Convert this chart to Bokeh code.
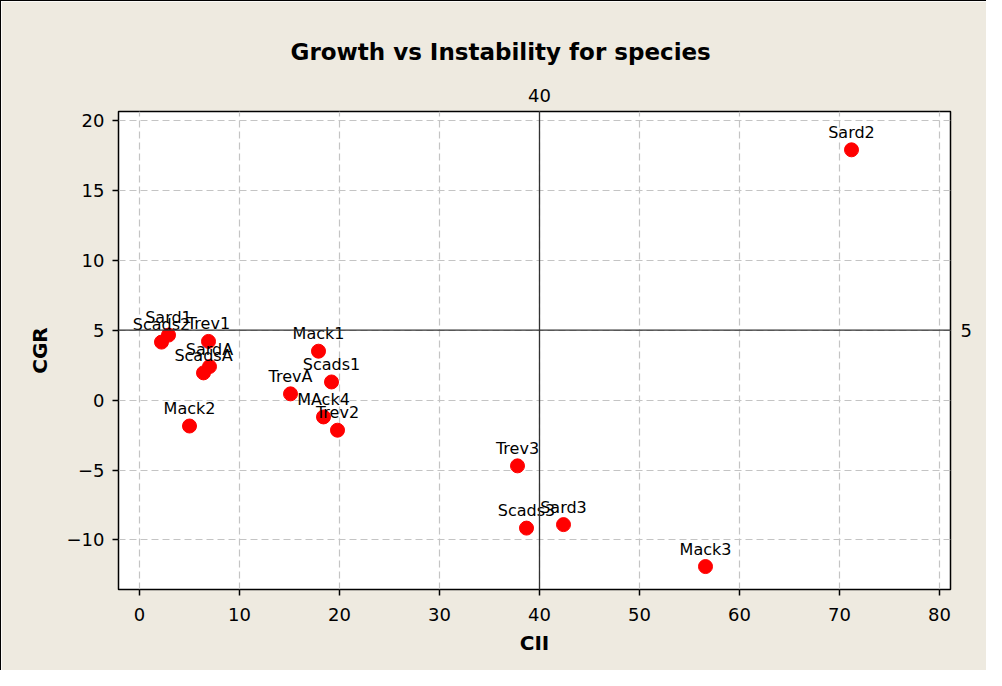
from bokeh.plotting import figure
from bokeh.models import ColumnDataSource, Span, LinearAxis, FixedTicker, Range1d
from bokeh.core.properties import value
from bokeh.embed import file_html
from bokeh.resources import INLINE

names = ["Sard2", "Sard1", "Scads2", "Trev1", "SardA", "ScadsA", "Mack2", "Mack1",
         "Scads1", "TrevA", "MAck4", "Trev2", "Trev3", "Scads3", "Sard3", "Mack3"]
cii = [71.2, 2.9, 2.2, 6.9, 7.0, 6.4, 5.0, 17.9, 19.2, 15.1, 18.4, 19.8, 37.8, 38.7, 42.4, 56.6]
cgr = [17.9, 4.65, 4.15, 4.2, 2.4, 1.95, -1.85, 3.5, 1.3, 0.45, -1.2, -2.15, -4.7, -9.15, -8.9, -11.9]
x_ticks = [0, 10, 20, 30, 40, 50, 60, 70, 80]
y_ticks = [-10, -5, 0, 5, 10, 15, 20]
ref_x = 40
ref_y = 5

FONT = "DejaVu Sans"
BG = "#EEEAE0"

src = ColumnDataSource(dict(x=cii, y=cgr, name=names))

p = figure(width=986, height=670, output_backend="svg", toolbar_location=None,
           x_range=Range1d(-2.1, 81.1), y_range=Range1d(-13.54, 20.64),
           title="Growth vs Instability for species",
           min_border_left=117, min_border_right=37, min_border_top=110, min_border_bottom=82)
p.styles = {"border-left": "1px solid black", "border-top": "1px solid black"}
p.background_fill_color = "white"
p.border_fill_color = BG
p.outline_line_color = "black"
p.outline_line_width = 1.5

p.title.text_font = FONT
p.title.text_font_size = "23px"
p.title.text_font_style = "bold"
p.title.text_color = "black"
p.title.align = "left"
p.title.offset = 172
p.title.standoff = 42

for ax, ticks in ((p.xaxis[0], x_ticks), (p.yaxis[0], y_ticks)):
    ax.ticker = FixedTicker(ticks=ticks)
    ax.major_label_text_font = FONT
    ax.major_label_text_font_size = "18px"
    ax.major_label_text_color = "black"
    ax.axis_label_text_font = FONT
    ax.axis_label_text_font_size = "20px"
    ax.axis_label_text_font_style = "bold"
    ax.axis_label_text_color = "black"
    ax.axis_line_color = None
    ax.major_tick_out = 6
    ax.major_tick_in = 0
    ax.major_tick_line_color = "black"
    ax.major_tick_line_width = 1.5
    ax.minor_tick_line_color = None
p.xaxis.axis_label = "CII"
p.yaxis.axis_label = "CGR"
p.xaxis.major_label_standoff = 12
p.xaxis.axis_label_standoff = 7
p.yaxis.major_label_standoff = 8
p.yaxis.axis_label_standoff = 12

p.xgrid.ticker = FixedTicker(ticks=x_ticks)
p.ygrid.ticker = FixedTicker(ticks=y_ticks)
p.grid.grid_line_color = "#C4C4C4"
p.grid.grid_line_dash = "7 4"
p.grid.grid_line_width = 1.2

top_ax = LinearAxis(ticker=FixedTicker(ticks=[ref_x]), axis_line_color=None,
                    major_tick_line_color=None, minor_tick_line_color=None,
                    major_label_text_font=FONT, major_label_text_font_size="18px",
                    major_label_text_color="black", major_label_standoff=4)
p.add_layout(top_ax, "above")
right_ax = LinearAxis(ticker=FixedTicker(ticks=[ref_y]), axis_line_color=None,
                      major_tick_line_color=None, minor_tick_line_color=None,
                      major_label_text_font=FONT, major_label_text_font_size="18px",
                      major_label_text_color="black", major_label_standoff=4)
p.add_layout(right_ax, "right")

p.add_layout(Span(location=ref_x, dimension="height", line_color="#333333", line_width=1.3))
p.add_layout(Span(location=ref_y, dimension="width", line_color="#333333", line_width=1.3))

p.scatter("x", "y", source=src, size=14, fill_color="#FF0000", line_color="#FF0000")
p.text("x", "y", text="name", source=src, text_align="center", text_baseline="bottom",
       y_offset=-8, text_font=value(FONT), text_font_size="16px", text_color="black")

open("out.html", "w").write(file_html(p, INLINE))
